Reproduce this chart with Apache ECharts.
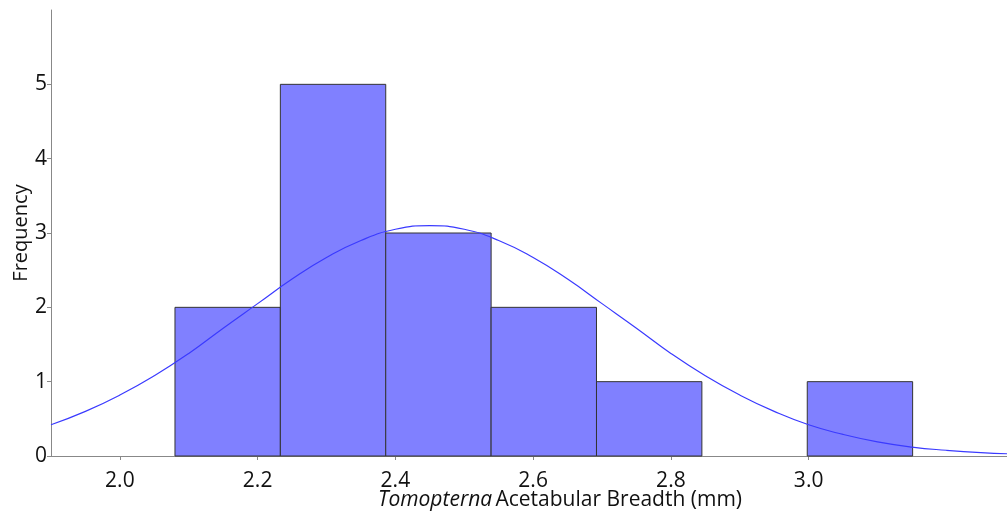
<!DOCTYPE html>
<html>
<head>
<meta charset="utf-8">
<script src="https://cdn.jsdelivr.net/npm/echarts@6/dist/echarts.min.js"></script>
<style>
  html, body { margin: 0; padding: 0; background: #fff; }
  #chart { width: 1007px; height: 515px; }
</style>
</head>
<body>
<div id="chart"></div>
<script>
// histogram bins (left edge, right edge) and counts
const binStarts = [2.080, 2.233, 2.386, 2.539, 2.692, 2.845, 2.998];
const binEnds = [2.233, 2.386, 2.539, 2.692, 2.845, 2.998, 3.151];
const counts = [2, 5, 3, 2, 1, 0, 1];

// fitted normal curve
const curveX = [1.90, 1.95, 2.00, 2.05, 2.10, 2.15, 2.20, 2.25, 2.30, 2.35, 2.40, 2.45,
  2.50, 2.55, 2.60, 2.65, 2.70, 2.75, 2.80, 2.85, 2.90, 2.95, 3.00, 3.05, 3.10, 3.15,
  3.20, 3.25, 3.30];
const curveY = [0.42, 0.60, 0.82, 1.08, 1.38, 1.72, 2.05, 2.38, 2.67, 2.90, 3.05, 3.10,
  3.05, 2.90, 2.67, 2.38, 2.05, 1.72, 1.38, 1.08, 0.82, 0.60, 0.42, 0.29, 0.19, 0.12,
  0.077, 0.046, 0.027];

const xTicks = ["2.0", "2.2", "2.4", "2.6", "2.8", "3.0"];
const yTicks = [0, 1, 2, 3, 4, 5];

const FONT = "Open Sans";
const chart = echarts.init(document.getElementById("chart"));

const histData = binStarts.map((s, i) => [s, binEnds[i], counts[i]]);

chart.setOption({
  backgroundColor: "#fff",
  animation: false,
  grid: { left: 51, top: 10, right: 0, bottom: 59, outerBoundsMode: "none", containLabel: false },
  xAxis: [
    {
      type: "value",
      min: 1.9,
      max: 3.288,
      interval: 0.1,
      name: "{i|Tomopterna} {n|Acetabular Breadth (mm)}",
      nameLocation: "middle",
      nameGap: 34,
      nameMoveOverlap: false,
      nameTextStyle: {
        padding: [0, 0, 0, 62],
        rich: {
          i: { fontFamily: FONT, fontSize: 21, fontStyle: "italic", color: "#111" },
          n: { fontFamily: FONT, fontSize: 21, color: "#111" },
        },
      },
      axisLine: { show: true, onZero: false, lineStyle: { color: "#3a3ae0", width: 1 } },
      axisTick: {
        show: true, length: 4, lineStyle: { color: "#888" },
        customValues: xTicks.map(Number),
      },
      axisLabel: {
        fontFamily: FONT, fontSize: 21, color: "#111", margin: 15,
        customValues: xTicks.map(Number),
        formatter: v => v.toFixed(1),
      },
      splitLine: { show: false },
    },
    {
      type: "value",
      position: "top",
      min: 1.9,
      max: 3.288,
      axisLine: { show: true, lineStyle: { color: "#888", width: 1 } },
      axisTick: { show: false },
      axisLabel: { show: false },
      splitLine: { show: false },
    },
  ],
  yAxis: {
    type: "value",
    min: 0,
    max: 6,
    interval: 1,
    name: "Frequency",
    nameLocation: "middle",
    nameGap: 20,
    nameMoveOverlap: false,
    nameTextStyle: { fontFamily: FONT, fontSize: 20, color: "#111" },
    axisLine: { show: true, lineStyle: { color: "#888", width: 1 } },
    axisTick: { show: true, length: 4, lineStyle: { color: "#888" }, customValues: yTicks },
    axisLabel: {
      fontFamily: FONT, fontSize: 21, color: "#111", margin: 4,
      customValues: yTicks,
    },
    splitLine: { show: false },
  },
  series: [
    {
      type: "custom",
      xAxisIndex: 0,
      data: histData,
      encode: { x: [0, 1], y: 2 },
      renderItem: (params, api) => {
        const h = api.value(2);
        if (!h) return null;
        const p0 = api.coord([api.value(0), h]);
        const p1 = api.coord([api.value(1), 0]);
        return {
          type: "rect",
          shape: { x: p0[0], y: p0[1], width: p1[0] - p0[0], height: p1[1] - p0[1] },
          style: { fill: "#8080ff", stroke: "#333", lineWidth: 1 },
        };
      },
      z: 2,
    },
    {
      type: "line",
      xAxisIndex: 0,
      data: curveX.map((x, i) => [x, curveY[i]]),
      smooth: true,
      showSymbol: false,
      lineStyle: { color: "#3a3aff", width: 1.2 },
      z: 3,
    },
  ],
});
</script>
</body>
</html>
